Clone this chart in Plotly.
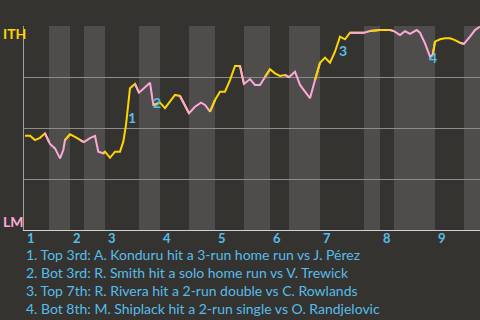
import plotly.graph_objects as go

# ---- data (x = game progress units, wp = ITH win probability) ----
x_vals = [1, 6, 11, 16, 21, 25, 26, 31, 36, 39.3, 41, 46, 51, 56, 60, 66, 71, 74.3, 79.3,
          81, 86, 91, 96, 99.3, 102, 104.3, 106, 111, 115, 126, 129.3, 136, 141, 151, 156,
          165, 171, 177, 181, 186, 191, 196, 201, 206, 211, 216, 220, 226, 230, 231, 236,
          241, 246, 251, 256, 261, 265, 271, 276, 281, 286, 291, 296, 301, 306, 311, 316,
          321, 326, 340, 346, 356, 366, 370, 376, 381, 386, 392.7, 396, 401, 406, 408.7,
          411, 416, 421, 426, 431, 436, 440, 446, 451, 456]
wp_vals = [0.462, 0.462, 0.441, 0.452, 0.474, 0.431, 0.422, 0.400, 0.351, 0.392, 0.441,
           0.469, 0.457, 0.441, 0.431, 0.450, 0.461, 0.384, 0.376, 0.384, 0.354, 0.384,
           0.384, 0.433, 0.515, 0.604, 0.695, 0.716, 0.673, 0.722, 0.613, 0.624, 0.597,
           0.662, 0.657, 0.572, 0.604, 0.624, 0.613, 0.580, 0.637, 0.678, 0.678, 0.735,
           0.804, 0.804, 0.716, 0.740, 0.716, 0.711, 0.711, 0.751, 0.788, 0.768, 0.755,
           0.760, 0.749, 0.776, 0.711, 0.678, 0.646, 0.735, 0.820, 0.845, 0.820, 0.874,
           0.948, 0.935, 0.967, 0.967, 0.975, 0.980, 0.980, 0.975, 0.956, 0.975, 0.961,
           0.980, 0.967, 0.915, 0.850, 0.858, 0.923, 0.935, 0.940, 0.940, 0.931, 0.918,
           0.912, 0.948, 0.980, 0.997]

# half-inning boundaries (top 1, bot 1, top 2, ... , bot 9, end)
half_bounds = [0, 25, 46, 60, 81, 115, 136, 165, 191, 220, 246, 265, 296, 340, 356,
               370, 411, 440, 456]
inning_labels = ["1", "2", "3", "4", "5", "6", "7", "8", "9"]

event_labels = ["1", "2", "3", "4"]
event_x = [107.5, 133, 318.5, 408.5]
event_wp = [0.551, 0.627, 0.880, 0.846]
event_texts = [
    "1. Top 3rd: A. Konduru hit a 3-run home run vs J. Pérez",
    "2. Bot 3rd: R. Smith hit a solo home run vs V. Trewick",
    "3. Top 7th: R. Rivera hit a 2-run double vs C. Rowlands",
    "4. Bot 8th: M. Shiplack hit a 2-run single vs O. Randjelovic",
]

BG = "#353330"
STRIPE = "#4e4d4c"
YELLOW = "#ffd500"
PINK = "#ffa8d8"
BLUE = "#55bdea"
FONT = "Lato, Open Sans, sans-serif"

fig = go.Figure()

# line segments per half inning
for i in range(len(half_bounds) - 1):
    a, b = half_bounds[i], half_bounds[i + 1]
    xs = [x for x in x_vals if a <= x <= b]
    ys = [w for x, w in zip(x_vals, wp_vals) if a <= x <= b]
    prev = [j for j, x in enumerate(x_vals) if x < a]
    if prev:
        xs = [x_vals[prev[-1]]] + xs
        ys = [wp_vals[prev[-1]]] + ys
    fig.add_trace(go.Scatter(
        x=xs, y=ys, mode="lines",
        line=dict(color=YELLOW if i % 2 == 0 else PINK, width=2),
        hoverinfo="skip", showlegend=False))

shapes = []
for i in range(1, len(half_bounds) - 1, 2):
    shapes.append(dict(type="rect", xref="x", yref="y",
                       x0=half_bounds[i], x1=half_bounds[i + 1], y0=0, y1=1,
                       fillcolor=STRIPE, line=dict(width=0), layer="below"))

annotations = []
for k, lab in enumerate(inning_labels):
    annotations.append(dict(x=half_bounds[2 * k], y=0, xref="x", yref="y",
                            text=f"<b>{lab}</b>", showarrow=False,
                            xanchor="left", yanchor="middle", xshift=1, yshift=-8,
                            font=dict(family=FONT, size=13, color=BLUE)))
for lab, ex, ey in zip(event_labels, event_x, event_wp):
    annotations.append(dict(x=ex, y=ey, xref="x", yref="y", text=f"<b>{lab}</b>",
                            showarrow=False, xanchor="center", yanchor="middle",
                            font=dict(family=FONT, size=14, color=BLUE)))
for k, t in enumerate(event_texts):
    annotations.append(dict(x=0, y=0, xref="paper", yref="paper", text=t,
                            showarrow=False, xanchor="left", yanchor="middle",
                            xshift=0, yshift=-(24 + 18 * k),
                            font=dict(family=FONT, size=14, color=BLUE)))
annotations.append(dict(x=0, y=1, xref="paper", yref="paper", text="<b>ITH</b>",
                        showarrow=False, xanchor="left", yanchor="middle",
                        xshift=-23, yshift=-7,
                        font=dict(family=FONT, size=14, color=YELLOW)))
annotations.append(dict(x=0, y=0, xref="paper", yref="paper", text="<b>LM</b>",
                        showarrow=False, xanchor="left", yanchor="middle",
                        xshift=-23, yshift=9,
                        font=dict(family=FONT, size=14, color=PINK)))

fig.update_layout(
    width=480, height=320,
    margin=dict(l=24, r=0, t=26, b=90),
    paper_bgcolor=BG, plot_bgcolor=BG,
    shapes=shapes, annotations=annotations,
    xaxis=dict(range=[0, 456], showgrid=False, zeroline=False, showticklabels=False,
               showline=True, linecolor="#d0d0d0", linewidth=1, ticks=""),
    yaxis=dict(range=[0, 1], tickvals=[0.25, 0.5, 0.75, 1.0], showticklabels=False,
               showgrid=True, gridcolor="#8c8c8c", gridwidth=1, zeroline=False,
               showline=True, linecolor="#a0a0a0", linewidth=1, ticks=""),
)

fig.write_html("out.html")
